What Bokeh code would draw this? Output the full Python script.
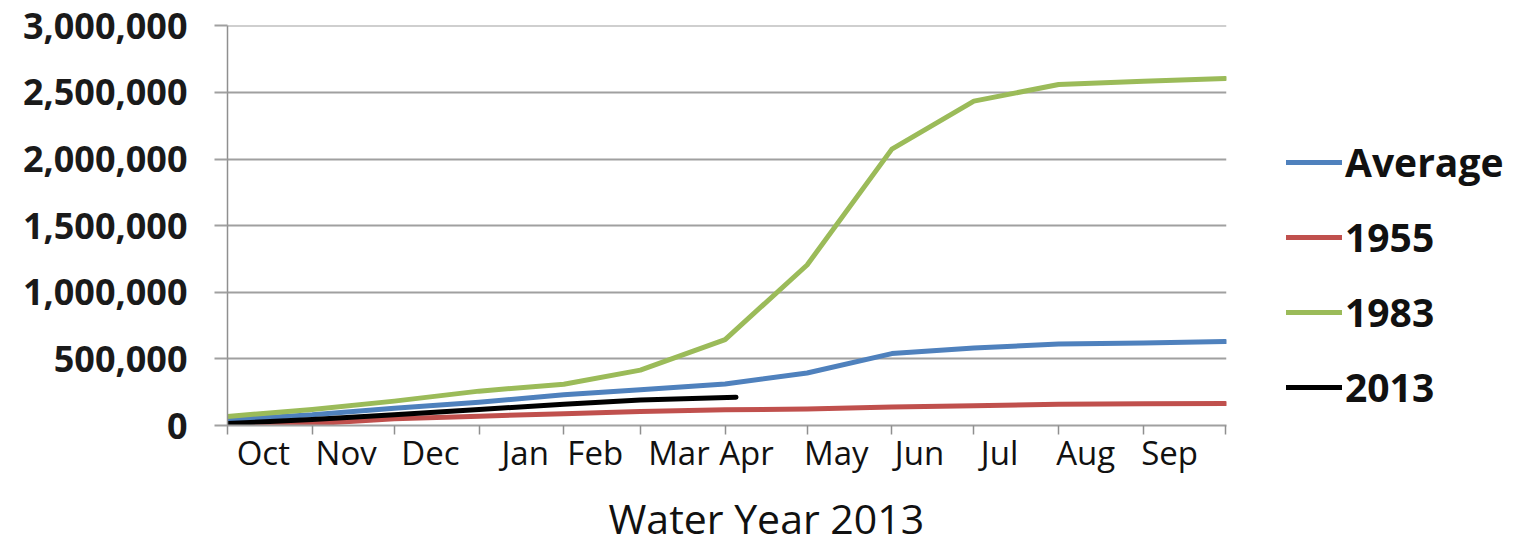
from bokeh.plotting import figure
from bokeh.models import (Range1d, FixedTicker, NumeralTickFormatter, Legend, LegendItem, Title)
from bokeh.embed import file_html
from bokeh.resources import INLINE

# Cumulative volume by water-year month (values at month boundaries, Oct 1 .. Oct 1)
months = ["Oct", "Nov", "Dec", "Jan", "Feb", "Mar", "Apr", "May", "Jun", "Jul", "Aug", "Sep"]
days_in_month = [31, 30, 31, 31, 28, 31, 30, 31, 30, 31, 31, 30]

average = [43000, 80000, 130000, 175000, 230000, 268000, 312000, 394000,
           540000, 582000, 612000, 620000, 630000]
y1955 = [0, 13000, 50000, 70000, 88000, 105000, 118000, 123000,
         138000, 148000, 160000, 163000, 165000]
y1983 = [68000, 120000, 183000, 258000, 310000, 416000, 645000, 1205000,
         2075000, 2435000, 2560000, 2585000, 2605000]
# 2013 record runs through early April
y2013_day = [0, 31, 61, 92, 123, 151, 186]
y2013 = [15000, 45000, 80000, 120000, 160000, 192000, 213000]

y_ticks = [0, 500000, 1000000, 1500000, 2000000, 2500000, 3000000]

# day-of-water-year at each month boundary
boundaries = [0]
for d in days_in_month:
    boundaries.append(boundaries[-1] + d)

# where each month name sits along the axis (day of water year)
label_days = [13.1, 43.4, 74.2, 108.9, 134.5, 165.1, 189.8, 222.7, 253.1, 282.4, 313.9, 344.6]

GRID = "#a0a0a0"
AXIS = "#8f8f8f"

p = figure(frame_width=999, frame_height=400, output_backend="svg", toolbar_location=None,
           x_range=Range1d(0, 365.4), y_range=Range1d(0, 3003000),
           min_border_left=227, min_border_right=0, min_border_top=25,
           min_border_bottom=120)
p.outline_line_color = None
p.background_fill_color = "white"
p.border_fill_color = "white"

# y axis
p.yaxis.ticker = FixedTicker(ticks=y_ticks)
p.yaxis.formatter = NumeralTickFormatter(format="0,0")
p.yaxis.major_label_text_font = "Open Sans"
p.yaxis.major_label_text_font_style = "bold"
p.yaxis.major_label_text_font_size = "36px"
p.yaxis.major_label_text_color = "#1a1a1a"
p.yaxis.major_tick_out = 13
p.yaxis.major_tick_in = 0
p.yaxis.major_tick_line_color = GRID
p.yaxis.major_tick_line_width = 2
p.yaxis.minor_tick_line_color = None
p.yaxis.axis_line_color = AXIS
p.yaxis.axis_line_width = 1.5
p.yaxis.major_label_standoff = 27

# x axis: month names between boundary ticks
p.xaxis.ticker = FixedTicker(ticks=label_days, minor_ticks=boundaries)
p.xaxis.major_label_overrides = {d: m for d, m in zip(label_days, months)}
p.xaxis.major_tick_line_color = None
p.xaxis.major_tick_out = 0
p.xaxis.major_tick_in = 0
p.xaxis.minor_tick_line_color = AXIS
p.xaxis.minor_tick_line_width = 1.5
p.xaxis.minor_tick_out = 9
p.xaxis.minor_tick_in = 0
p.xaxis.axis_line_color = GRID
p.xaxis.axis_line_width = 2
p.xaxis.major_label_text_font = "Open Sans"
p.xaxis.major_label_text_font_size = "33px"
p.xaxis.major_label_text_color = "#111111"
p.xaxis.major_label_standoff = -5

# x-axis caption, set a little right of the frame centre
caption = Title(text="Water Year 2013", align="left", offset=381, standoff=20,
                text_font="Open Sans", text_font_style="normal",
                text_font_size="41px", text_color="#111111")
p.add_layout(caption, "below")

p.xgrid.visible = False
p.ygrid.ticker = FixedTicker(ticks=y_ticks)
p.ygrid.grid_line_color = GRID
p.ygrid.grid_line_width = 2

LW = 5
r_avg = p.line(boundaries, average, line_color="#4f81bd", line_width=LW,
               line_join="round", line_cap="round")
r_55 = p.line(boundaries, y1955, line_color="#c0504d", line_width=LW,
              line_join="round", line_cap="round")
r_83 = p.line(boundaries, y1983, line_color="#9bbb59", line_width=LW,
              line_join="round", line_cap="round")
r_13 = p.line(y2013_day, y2013, line_color="#000000", line_width=LW,
              line_join="round", line_cap="round")

legend = Legend(items=[LegendItem(label="Average", renderers=[r_avg]),
                       LegendItem(label="1955", renderers=[r_55]),
                       LegendItem(label="1983", renderers=[r_83]),
                       LegendItem(label="2013", renderers=[r_13])],
                location=(60, 12))
legend.border_line_color = None
legend.background_fill_alpha = 0
legend.padding = 0
legend.margin = 0
legend.glyph_width = 56
legend.glyph_height = 40
legend.label_height = 40
legend.spacing = 22
legend.label_standoff = 3
legend.label_text_font = "Open Sans"
legend.label_text_font_style = "bold"
legend.label_text_font_size = "39px"
legend.label_text_color = "#111111"
p.add_layout(legend, "right")

open("out.html", "w").write(file_html(p, INLINE))
